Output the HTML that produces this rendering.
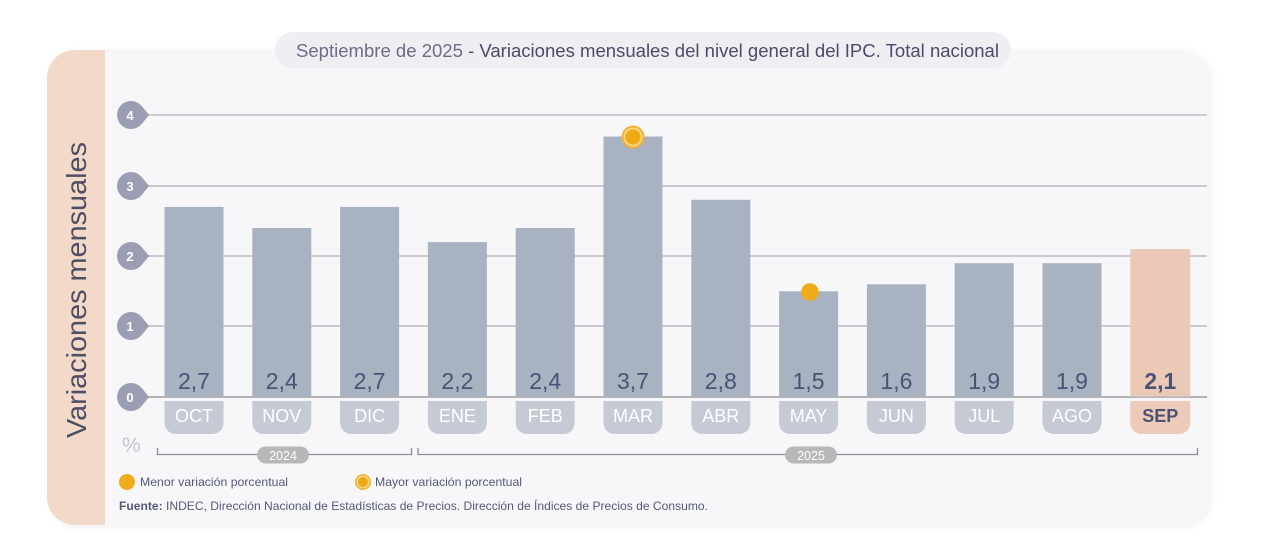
<!DOCTYPE html>
<html><head><meta charset="utf-8"><style>
html,body{margin:0;padding:0;background:#fff;width:1280px;height:550px;overflow:hidden}
svg{display:block}
text{font-family:"Liberation Sans",Arial,sans-serif}
</style></head><body>
<svg width="1280" height="550" viewBox="0 0 1280 550" xmlns="http://www.w3.org/2000/svg">
<defs>
<filter id="sh" x="-5%" y="-10%" width="110%" height="120%">
<feDropShadow dx="3" dy="2" stdDeviation="4" flood-color="#000" flood-opacity="0.06"/>
</filter>
</defs>
<rect x="0" y="0" width="1280" height="550" fill="#fff"/>
<!-- card -->
<rect x="47" y="50" width="1161" height="475" rx="28" ry="28" fill="#f7f7f9" filter="url(#sh)"/>
<!-- peach strip -->
<path d="M105 50 L75 50 A28 28 0 0 0 47 78 L47 497 A28 28 0 0 0 75 525 L105 525 Z" fill="#f3d9ca"/>
<!-- title pill -->
<rect x="275" y="32" width="736" height="36" rx="18" fill="#efeff3"/>
<text x="296" y="57" font-size="18" textLength="703" lengthAdjust="spacingAndGlyphs"><tspan fill="#6f6b86">Septiembre de 2025</tspan><tspan fill="#4d4968"> - Variaciones mensuales del nivel general del IPC. Total nacional</tspan></text>
<!-- y axis label -->
<text transform="translate(86,290) rotate(-90)" text-anchor="middle" font-size="28" fill="#4f4f62" textLength="296" lengthAdjust="spacingAndGlyphs">Variaciones mensuales</text>
<!-- gridlines -->
<g stroke="#bcbcc1" stroke-width="1.5">
<line x1="148" y1="115" x2="1207" y2="115"/>
<line x1="148" y1="186" x2="1207" y2="186"/>
<line x1="148" y1="256" x2="1207" y2="256"/>
<line x1="148" y1="326" x2="1207" y2="326"/>
</g>
<line x1="148" y1="397" x2="1207" y2="397" stroke="#b3b3b8" stroke-width="2"/>
<!-- ticks -->
<g fill="#9b9db2">
<path d="M149 115 L141.9 106.2 A14 14 0 1 0 141.9 123.8 Z"/>
<path d="M149 186 L141.9 177.2 A14 14 0 1 0 141.9 194.8 Z"/>
<path d="M149 256 L141.9 247.2 A14 14 0 1 0 141.9 264.8 Z"/>
<path d="M149 326 L141.9 317.2 A14 14 0 1 0 141.9 334.8 Z"/>
<path d="M149 397 L141.9 388.2 A14 14 0 1 0 141.9 405.8 Z"/>
</g>
<g fill="#fff" font-size="13" font-weight="bold" text-anchor="middle">
<text x="130" y="120">4</text>
<text x="130" y="191">3</text>
<text x="130" y="261">2</text>
<text x="130" y="331">1</text>
<text x="130" y="402">0</text>
</g>
<!-- bars -->
<g fill="#a8b2c0">
<rect x="164.5" y="206.9" width="59" height="189.6"/>
<rect x="252.3" y="228.0" width="59" height="168.5"/>
<rect x="340.1" y="206.9" width="59" height="189.6"/>
<rect x="427.9" y="242.1" width="59" height="154.4"/>
<rect x="515.7" y="228.0" width="59" height="168.5"/>
<rect x="603.5" y="136.5" width="59" height="260.0"/>
<rect x="691.3" y="199.8" width="59" height="196.7"/>
<rect x="779.1" y="291.3" width="59" height="105.2"/>
<rect x="866.9" y="284.3" width="59" height="112.2"/>
<rect x="954.7" y="263.2" width="59" height="133.3"/>
<rect x="1042.5" y="263.2" width="59" height="133.3"/>
</g>
<rect x="1130.3" y="249.1" width="60" height="147.4" fill="#eacab6"/>
<!-- month tabs -->
<g fill="#c5cad5">
<path d="M164.5 401 h59 v22 a11 11 0 0 1 -11 11 h-37 a11 11 0 0 1 -11 -11 Z"/>
<path d="M252.3 401 h59 v22 a11 11 0 0 1 -11 11 h-37 a11 11 0 0 1 -11 -11 Z"/>
<path d="M340.1 401 h59 v22 a11 11 0 0 1 -11 11 h-37 a11 11 0 0 1 -11 -11 Z"/>
<path d="M427.9 401 h59 v22 a11 11 0 0 1 -11 11 h-37 a11 11 0 0 1 -11 -11 Z"/>
<path d="M515.7 401 h59 v22 a11 11 0 0 1 -11 11 h-37 a11 11 0 0 1 -11 -11 Z"/>
<path d="M603.5 401 h59 v22 a11 11 0 0 1 -11 11 h-37 a11 11 0 0 1 -11 -11 Z"/>
<path d="M691.3 401 h59 v22 a11 11 0 0 1 -11 11 h-37 a11 11 0 0 1 -11 -11 Z"/>
<path d="M779.1 401 h59 v22 a11 11 0 0 1 -11 11 h-37 a11 11 0 0 1 -11 -11 Z"/>
<path d="M866.9 401 h59 v22 a11 11 0 0 1 -11 11 h-37 a11 11 0 0 1 -11 -11 Z"/>
<path d="M954.7 401 h59 v22 a11 11 0 0 1 -11 11 h-37 a11 11 0 0 1 -11 -11 Z"/>
<path d="M1042.5 401 h59 v22 a11 11 0 0 1 -11 11 h-37 a11 11 0 0 1 -11 -11 Z"/>
</g>
<path d="M1130.3 401 h60 v22 a11 11 0 0 1 -11 11 h-38 a11 11 0 0 1 -11 -11 Z" fill="#eccbb8"/>
<!-- value labels -->
<g fill="#4b5275" font-size="23" text-anchor="middle">
<text x="194" y="389">2,7</text>
<text x="281.8" y="389">2,4</text>
<text x="369.6" y="389">2,7</text>
<text x="457.4" y="389">2,2</text>
<text x="545.2" y="389">2,4</text>
<text x="633" y="389">3,7</text>
<text x="720.8" y="389">2,8</text>
<text x="808.6" y="389">1,5</text>
<text x="896.4" y="389">1,6</text>
<text x="984.2" y="389">1,9</text>
<text x="1072" y="389">1,9</text>
<text x="1160.3" y="389" font-weight="bold">2,1</text>
</g>
<!-- month labels -->
<g fill="#fff" font-size="18" text-anchor="middle">
<text x="194" y="422">OCT</text>
<text x="281.8" y="422">NOV</text>
<text x="369.6" y="422">DIC</text>
<text x="457.4" y="422">ENE</text>
<text x="545.2" y="422">FEB</text>
<text x="633" y="422">MAR</text>
<text x="720.8" y="422">ABR</text>
<text x="808.6" y="422">MAY</text>
<text x="896.4" y="422">JUN</text>
<text x="984.2" y="422">JUL</text>
<text x="1072" y="422">AGO</text>
</g>
<text x="1160.3" y="422" fill="#4b5275" font-size="18" font-weight="bold" text-anchor="middle">SEP</text>
<!-- markers -->
<circle cx="633" cy="137" r="11.5" fill="#f2b330"/>
<circle cx="633" cy="137" r="8.6" fill="none" stroke="#f9d88e" stroke-width="1.6"/>
<circle cx="633" cy="137" r="7" fill="#efa914"/>
<circle cx="810" cy="292" r="8.8" fill="#efab1a"/>
<!-- % -->
<text x="122" y="452" font-size="21" fill="#c6c6cd">%</text>
<!-- year brackets -->
<g stroke="#8d8d93" stroke-width="1.3" fill="none">
<path d="M157.5 448 V454.5 H411.5 V448"/>
<path d="M418 448 V454.5 H1197.5 V448"/>
</g>
<rect x="257" y="446.5" width="52" height="17" rx="8.5" fill="#b7b7ba"/>
<rect x="785" y="446.5" width="52" height="17" rx="8.5" fill="#b7b7ba"/>
<text x="283" y="460" font-size="12.5" fill="#fff" text-anchor="middle">2024</text>
<text x="811" y="460" font-size="12.5" fill="#fff" text-anchor="middle">2025</text>
<!-- legend -->
<circle cx="127" cy="482" r="8" fill="#efab1a"/>
<text x="140" y="486" font-size="12" fill="#55587a" textLength="148" lengthAdjust="spacingAndGlyphs">Menor variación porcentual</text>
<circle cx="363" cy="482" r="8" fill="#f2b330"/>
<circle cx="363" cy="482" r="5.8" fill="none" stroke="#f9d88e" stroke-width="1.3"/>
<circle cx="363" cy="482" r="4.6" fill="#efa914"/>
<text x="375" y="486" font-size="12" fill="#55587a" textLength="147" lengthAdjust="spacingAndGlyphs">Mayor variación porcentual</text>
<text x="119" y="510" font-size="12" fill="#55587a" textLength="589" lengthAdjust="spacingAndGlyphs"><tspan font-weight="bold">Fuente:</tspan> INDEC, Dirección Nacional de Estadísticas de Precios. Dirección de Índices de Precios de Consumo.</text>
</svg>
</body></html>
